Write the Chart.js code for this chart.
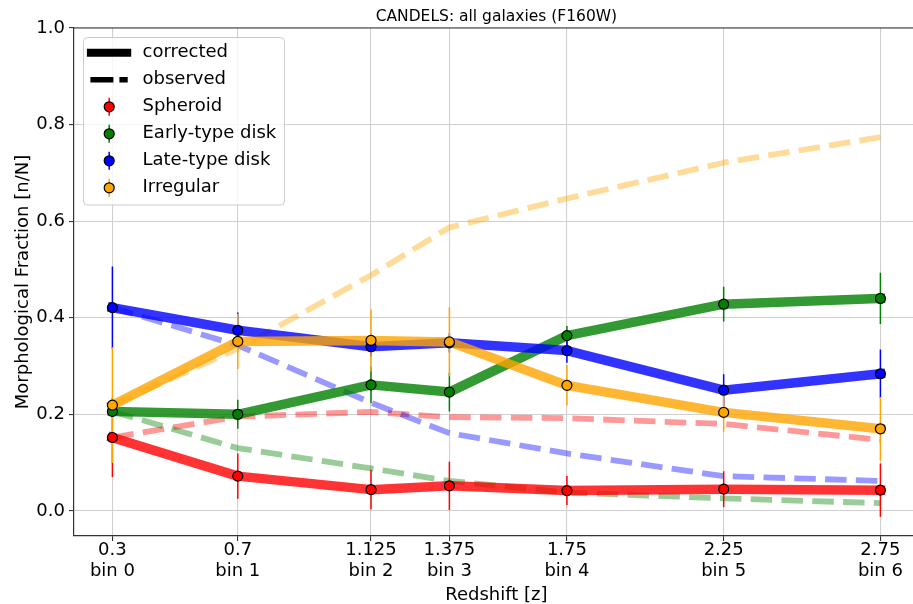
<!DOCTYPE html>
<html>
<head>
<meta charset="utf-8">
<script src="https://cdn.jsdelivr.net/npm/chart.js@4.4.1/dist/chart.umd.min.js"></script>
<style>
html,body{margin:0;padding:0;overflow:hidden;background:#fff;}
#wrap{width:925px;height:604px;}
</style>
</head>
<body>
<div id="wrap"><canvas id="c" width="925" height="604"></canvas></div>
<script>
// ---------- data ----------
const redshift = [0.3, 0.7, 1.125, 1.375, 1.75, 2.25, 2.75];
const zTickLabels = ['0.3', '0.7', '1.125', '1.375', '1.75', '2.25', '2.75'];
const binLabels = ['bin 0', 'bin 1', 'bin 2', 'bin 3', 'bin 4', 'bin 5', 'bin 6'];
const yTickValues = [0.0, 0.2, 0.4, 0.6, 0.8, 1.0];
const morphTypes = ['Spheroid', 'Early-type disk', 'Late-type disk', 'Irregular'];

const spheroidCorrected = [0.152, 0.072, 0.044, 0.052, 0.042, 0.045, 0.043];
const spheroidError     = [0.082, 0.047, 0.041, 0.050, 0.030, 0.037, 0.055];
const spheroidObserved  = [0.152, 0.195, 0.205, 0.194, 0.192, 0.180, 0.147];

const earlyCorrected = [0.206, 0.200, 0.261, 0.246, 0.363, 0.428, 0.440];
const earlyError     = [0.012, 0.030, 0.038, 0.040, 0.020, 0.036, 0.053];
const earlyObserved  = [0.206, 0.130, 0.088, 0.062, 0.038, 0.026, 0.016];

const lateCorrected = [0.421, 0.374, 0.340, 0.348, 0.332, 0.250, 0.284];
const lateError     = [0.085, 0.037, 0.020, 0.020, 0.025, 0.033, 0.050];
const lateObserved  = [0.421, 0.343, 0.224, 0.161, 0.119, 0.072, 0.062];

const irregularCorrected = [0.219, 0.351, 0.353, 0.350, 0.260, 0.204, 0.170];
const irregularError     = [0.120, 0.057, 0.064, 0.071, 0.042, 0.040, 0.066];
const irregularObserved  = [0.219, 0.336, 0.488, 0.587, 0.647, 0.721, 0.774];

// ---------- styles ----------
const FONT = '"DejaVu Sans", "Liberation Sans", sans-serif';
const rgb = ['255,0,0', '0,128,0', '0,0,255', '255,165,0'];
const corrected = [spheroidCorrected, earlyCorrected, lateCorrected, irregularCorrected];
const errors = [spheroidError, earlyError, lateError, irregularError];
const observed = [spheroidObserved, earlyObserved, lateObserved, irregularObserved];

const pts = arr => redshift.map((z, i) => ({x: z, y: arr[i]}));
const errPts = (c, e) => redshift.flatMap((z, i) => [
  {x: z, y: c[i] - e[i]}, {x: z, y: c[i] + e[i]}, {x: z, y: null}
]);

const datasets = [];
morphTypes.forEach((name, k) => {
  datasets.push({
    label: name + ' observed', data: pts(observed[k]),
    borderColor: `rgba(${rgb[k]},0.4)`, borderWidth: 5.8, borderDash: [21.5, 9.3],
    borderCapStyle: 'butt', borderJoinStyle: 'round',
    pointRadius: 0, fill: false, order: 50 - k
  });
});
morphTypes.forEach((name, k) => {
  datasets.push({
    label: name + ' corrected', data: pts(corrected[k]),
    borderColor: `rgba(${rgb[k]},0.8)`, borderWidth: 9.5,
    borderCapStyle: 'square', borderJoinStyle: 'round',
    pointRadius: 0, fill: false, order: 40 - k
  });
});
morphTypes.forEach((name, k) => {
  datasets.push({
    label: name + ' error', data: errPts(corrected[k], errors[k]),
    borderColor: `rgb(${rgb[k]})`, borderWidth: 1.5, spanGaps: false,
    pointRadius: 0, fill: false, order: 30 - k
  });
});
morphTypes.forEach((name, k) => {
  datasets.push({
    label: name, data: pts(corrected[k]), showLine: false,
    pointRadius: 5, pointBorderWidth: 1.2,
    pointBackgroundColor: `rgb(${rgb[k]})`, pointBorderColor: '#000',
    order: 20 - k
  });
});

const frameAndLegend = {
  id: 'frameAndLegend',
  afterDraw(chart) {
    const ctx = chart.ctx, a = chart.chartArea;
    ctx.save();
    // top spine
    ctx.strokeStyle = '#333'; ctx.lineWidth = 1.2;
    ctx.beginPath(); ctx.moveTo(a.left, a.top); ctx.lineTo(a.right, a.top); ctx.stroke();

    // legend box
    const bx = a.left + 9.5, by = a.top + 9.5, bw = 201, bh = 167.5, r = 4;
    ctx.beginPath();
    ctx.moveTo(bx + r, by);
    ctx.arcTo(bx + bw, by, bx + bw, by + bh, r);
    ctx.arcTo(bx + bw, by + bh, bx, by + bh, r);
    ctx.arcTo(bx, by + bh, bx, by, r);
    ctx.arcTo(bx, by, bx + bw, by, r);
    ctx.closePath();
    ctx.fillStyle = 'rgba(255,255,255,0.8)'; ctx.fill();
    ctx.strokeStyle = '#cccccc'; ctx.lineWidth = 1; ctx.stroke();

    const rowY = i => by + 15.3 + 27 * i;
    const hx0 = bx + 3.4, hx1 = bx + 47.7, hxc = bx + 25.7, tx = bx + 59;
    ctx.font = '18px ' + FONT; ctx.fillStyle = '#000';
    ctx.textAlign = 'left'; ctx.textBaseline = 'middle';

    // corrected
    ctx.strokeStyle = '#000'; ctx.lineWidth = 8; ctx.lineCap = 'butt'; ctx.setLineDash([]);
    ctx.beginPath(); ctx.moveTo(hx0, rowY(0)); ctx.lineTo(hx1, rowY(0)); ctx.stroke();
    ctx.fillText('corrected', tx, rowY(0));
    // observed
    ctx.lineWidth = 5.5; ctx.setLineDash([23, 6]);
    ctx.beginPath(); ctx.moveTo(hx0 + 3.5, rowY(1)); ctx.lineTo(hx1 - 3.5, rowY(1)); ctx.stroke();
    ctx.setLineDash([]);
    ctx.fillText('observed', tx, rowY(1));

    morphTypes.forEach((name, k) => {
      const y = rowY(2 + k);
      ctx.strokeStyle = `rgb(${rgb[k]})`; ctx.lineWidth = 1.5;
      ctx.beginPath(); ctx.moveTo(hxc, y - 9); ctx.lineTo(hxc, y + 9); ctx.stroke();
      ctx.beginPath(); ctx.arc(hxc, y, 5, 0, Math.PI * 2);
      ctx.fillStyle = `rgb(${rgb[k]})`; ctx.fill();
      ctx.strokeStyle = '#000'; ctx.lineWidth = 1.2; ctx.stroke();
      ctx.fillStyle = '#000';
      ctx.fillText(name, tx, y);
    });
    ctx.restore();
  }
};

new Chart(document.getElementById('c'), {
  type: 'line',
  data: {datasets},
  options: {
    responsive: false,
    animation: false,
    events: [],
    layout: {padding: {left: 0, right: 1, top: 0, bottom: 0}},
    plugins: {
      legend: {display: false},
      tooltip: {enabled: false},
      title: {
        display: true, text: 'CANDELS: all galaxies (F160W)', fullSize: false,
        color: '#000', font: {family: FONT, size: 15.5, weight: 'normal', lineHeight: 1.2},
        padding: {top: 8, bottom: 1.4}
      }
    },
    scales: {
      x: {
        type: 'linear', min: 0.1775, max: 2.8725,
        afterBuildTicks: axis => { axis.ticks = redshift.map(v => ({value: v})); },
        afterFit: s => { s.height = 68; },
        ticks: {
          autoSkip: false, maxRotation: 0, minRotation: 0, padding: -1,
          color: '#000', font: {family: FONT, size: 18, lineHeight: 1.15},
          callback: (v, i) => [zTickLabels[i], binLabels[i]]
        },
        grid: {color: '#d0d0d0', lineWidth: 1.1, tickLength: 5, tickColor: '#333', tickWidth: 1.1},
        border: {display: true, color: '#333', width: 1.2},
        title: {display: true, text: 'Redshift [z]', color: '#000',
          font: {family: FONT, size: 18, lineHeight: 1.0}, padding: {top: 0, bottom: 0}}
      },
      y: {
        type: 'linear', min: -0.052, max: 1.0,
        afterBuildTicks: axis => { axis.ticks = yTickValues.map(v => ({value: v})); },
        afterFit: s => { s.width = 74; },
        ticks: {
          padding: 4, color: '#000', font: {family: FONT, size: 18},
          callback: v => v.toFixed(1)
        },
        grid: {color: '#d0d0d0', lineWidth: 1.1, tickLength: 5, tickColor: '#333', tickWidth: 1.1},
        border: {display: true, color: '#333', width: 1.2},
        title: {display: true, text: 'Morphological Fraction [n/N]', color: '#000',
          font: {family: FONT, size: 18, lineHeight: 1.0}, padding: {top: 14.5, bottom: 0}}
      }
    }
  },
  plugins: [frameAndLegend]
});
</script>
</body>
</html>
